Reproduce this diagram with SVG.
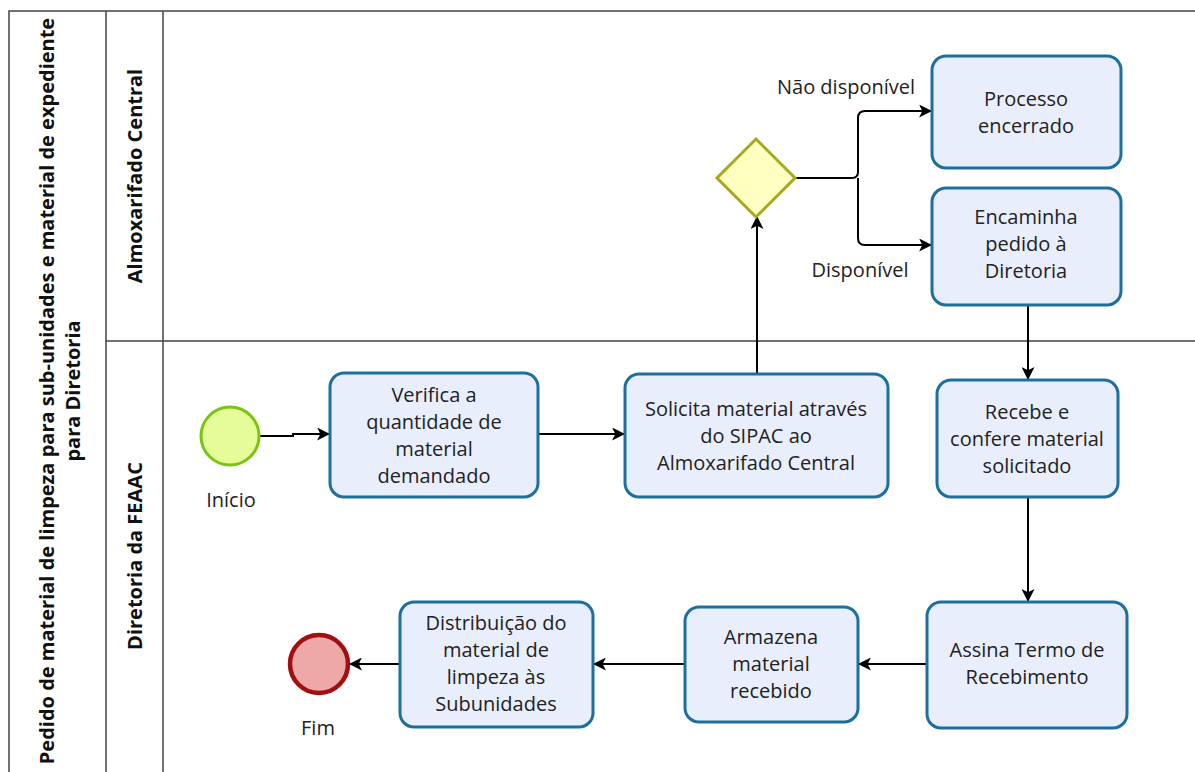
<svg xmlns="http://www.w3.org/2000/svg" width="1195" height="772" viewBox="0 0 1195 772">
  <defs>
    <marker id="arrow" viewBox="0 0 12 12" refX="11" refY="6" markerWidth="13" markerHeight="13" markerUnits="userSpaceOnUse" orient="auto">
      <path d="M0,0 L12,6 L0,12 L3,6 Z" fill="#000"/>
    </marker>
    <style>
      .pool { fill: #fff; stroke: #444; stroke-width: 1.5; }
      .hdr { font-family: "Open Sans", "Noto Sans", sans-serif; font-weight: bold; font-size: 20px; fill: #111; text-anchor: middle; }
      .task rect { fill: #e9eefc; stroke: #1d6fa0; stroke-width: 3; }
      .task text, .lbl { font-family: "Open Sans", "Noto Sans", sans-serif; font-size: 20px; fill: #222; text-anchor: middle; }
      .conn path { fill: none; stroke: #000; stroke-width: 2; marker-end: url(#arrow); }
    </style>
  </defs>
  <rect width="1195" height="772" fill="#fff"/>

  <!-- pool and lanes -->
  <g id="pool">
    <path class="pool" d="M1195,11 H9 V772 M106,11 V772 M163,11 V772 M106,341 H1195"/>
    <text class="hdr" transform="translate(47,391) rotate(-90)" dy="7">Pedido de material de limpeza para sub-unidades e material de expediente</text>
    <text class="hdr" transform="translate(73,391) rotate(-90)" dy="7">para Diretoria</text>
  </g>
  <g id="lane-almox">
    <text class="hdr" transform="translate(135,176) rotate(-90)" dy="7">Almoxarifado Central</text>
  </g>
  <g id="lane-diretoria">
    <text class="hdr" transform="translate(135,556) rotate(-90)" dy="7">Diretoria da FEAAC</text>
  </g>

  <!-- connectors -->
  <g class="conn">
    <path d="M260,436 H293 V434 H329"/>
    <path d="M538,434 H624"/>
    <path d="M757,373 V217"/>
    <path d="M795,178 H852 Q858,178 858,172 V118 Q858,111 865,111 H931"/>
    <path d="M858,178 V238 Q858,245 865,245 H931"/>
    <path d="M1028,305 V379"/>
    <path d="M1028,497 V601"/>
    <path d="M927,664 H859"/>
    <path d="M685,664 H594"/>
    <path d="M400,664 H350"/>
  </g>
  <text class="lbl" x="846" y="94">Não disponível</text>
  <text class="lbl" x="860" y="277">Disponível</text>

  <!-- events -->
  <g id="start">
    <circle cx="230" cy="436" r="29" fill="#e6fc98" stroke="#7ac414" stroke-width="3"/>
    <text class="lbl" x="231" y="507">Início</text>
  </g>
  <g id="end">
    <circle cx="319" cy="664" r="29" fill="#eea8a8" stroke="#a10f0f" stroke-width="4.5"/>
    <text class="lbl" x="318" y="735">Fim</text>
  </g>

  <!-- gateway -->
  <g id="gateway">
    <path d="M756,139 L795,178 L756,217 L717,178 Z" fill="#ffffc2" stroke="#a7a81c" stroke-width="3"/>
  </g>

  <!-- tasks -->
  <g id="task-verifica" class="task">
    <rect x="330" y="373" width="208" height="124" rx="14"/>
    <text x="434" y="402">Verifica a</text>
    <text x="434" y="429">quantidade de</text>
    <text x="434" y="456">material</text>
    <text x="434" y="483">demandado</text>
  </g>
  <g id="task-solicita" class="task">
    <rect x="625" y="374" width="263" height="123" rx="14"/>
    <text x="756" y="416">Solicita material através</text>
    <text x="756" y="443">do SIPAC ao</text>
    <text x="756" y="470">Almoxarifado Central</text>
  </g>
  <g id="task-processo" class="task">
    <rect x="932" y="56" width="189" height="112" rx="14"/>
    <text x="1026" y="106">Processo</text>
    <text x="1026" y="133">encerrado</text>
  </g>
  <g id="task-encaminha" class="task">
    <rect x="932" y="188" width="189" height="117" rx="14"/>
    <text x="1026" y="224">Encaminha</text>
    <text x="1026" y="251">pedido à</text>
    <text x="1026" y="278">Diretoria</text>
  </g>
  <g id="task-recebe" class="task">
    <rect x="937" y="380" width="181" height="117" rx="14"/>
    <text x="1027" y="419">Recebe e</text>
    <text x="1027" y="446">confere material</text>
    <text x="1027" y="473">solicitado</text>
  </g>
  <g id="task-assina" class="task">
    <rect x="927" y="602" width="200" height="126" rx="14"/>
    <text x="1027" y="657">Assina Termo de</text>
    <text x="1027" y="684">Recebimento</text>
  </g>
  <g id="task-armazena" class="task">
    <rect x="685" y="607" width="173" height="115" rx="14"/>
    <text x="771" y="644">Armazena</text>
    <text x="771" y="671">material</text>
    <text x="771" y="698">recebido</text>
  </g>
  <g id="task-distribuicao" class="task">
    <rect x="400" y="602" width="193" height="125" rx="14"/>
    <text x="496" y="630">Distribuição do</text>
    <text x="496" y="657">material de</text>
    <text x="496" y="684">limpeza às</text>
    <text x="496" y="711">Subunidades</text>
  </g>
</svg>
